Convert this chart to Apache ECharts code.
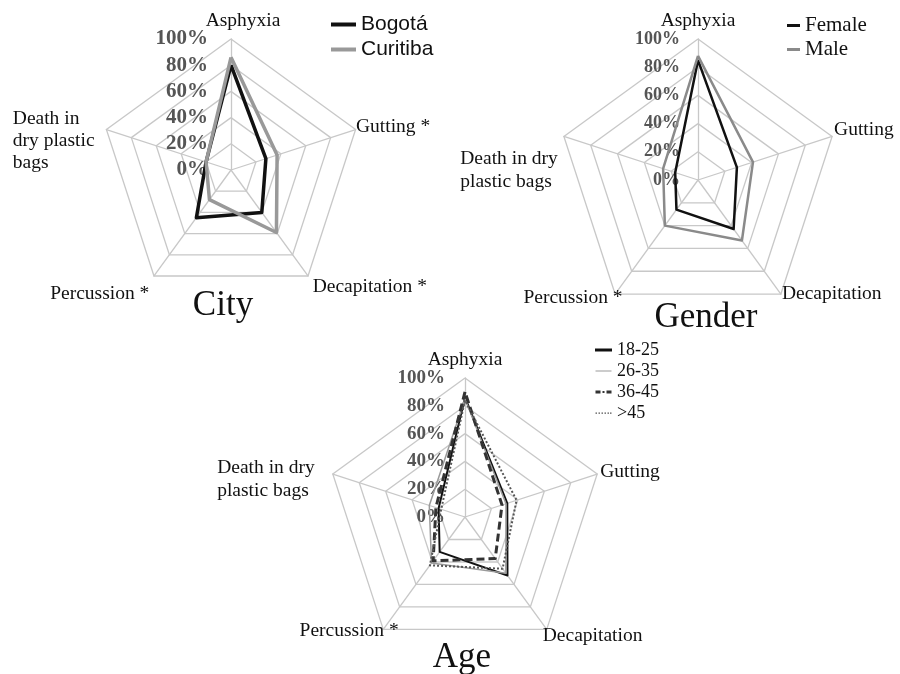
<!doctype html>
<html>
<head>
<meta charset="utf-8">
<script src="https://cdn.jsdelivr.net/npm/echarts@6/dist/echarts.min.js"></script>
<style>
  html, body { margin: 0; padding: 0; background: #fff; }
  #main { width: 900px; height: 674px; }
</style>
</head>
<body>
<div id="main"></div>
<script>
// axes, counter-clockwise from the top (ECharts radar order)
var cityAxes = ['Asphyxia', 'Death in\ndry plastic\nbags', 'Percussion *', 'Decapitation *', 'Gutting *'];
var genderAxes = ['Asphyxia', 'Death in dry\nplastic bags', 'Percussion *', 'Decapitation', 'Gutting'];
var ageAxes = ['Asphyxia', 'Death in dry\nplastic bags', 'Percussion *', 'Decapitation', 'Gutting'];

// values in %, same order as the axes
var bogota   = [80, 20, 45, 40, 28];
var curitiba = [86, 20, 28, 59, 37];
var female   = [85, 17, 26, 43, 29];
var male     = [88, 26, 40, 53, 41];
var age18_25 = [86, 20, 31, 52, 32];
var age26_35 = [85, 27, 41, 50, 31];
var age36_45 = [90, 22, 39, 37, 28];
var age45    = [84, 18, 43, 46, 39];

var serif = 'Liberation Serif';
var gridCol = '#c8c8c8';
var nameSize = 19.5;

function nameKey(n) {
  if (n === 'Asphyxia') return 'top';
  if (n.indexOf('Death') === 0) return 'bags';
  if (n.indexOf('Percussion') === 0) return 'perc';
  if (n.indexOf('Decapitation') === 0) return 'dec';
  return 'gut';
}
function fmt(n) { return '{' + nameKey(n) + '|' + n + '}'; }

function radarOf(axes, center, radius, rich) {
  return {
    center: center,
    radius: radius,
    startAngle: 90,
    shape: 'polygon',
    splitNumber: 5,
    nameGap: 8,
    indicator: axes.map(function (n) { return { name: n, min: 0, max: 100 }; }),
    axisName: { color: '#111', fontFamily: serif, fontSize: nameSize, formatter: fmt, rich: rich },
    splitLine: { lineStyle: { color: gridCol, width: 1.3 } },
    axisLine: { lineStyle: { color: gridCol, width: 1.3 } },
    splitArea: { show: false }
  };
}

// s = per-name style tweaks (box widths / paddings used to nudge the names)
function richOf(s) {
  var base = { fontFamily: serif, fontSize: nameSize, color: '#111' };
  var out = {};
  ['top', 'bags', 'perc', 'dec', 'gut'].forEach(function (k) {
    out[k] = Object.assign({}, base, s[k] || {});
  });
  return out;
}

function tickAxis(idx, margin, size) {
  return {
    type: 'value', gridIndex: idx, min: 0, max: 100, interval: 20,
    axisLine: { show: false }, axisTick: { show: false }, splitLine: { show: false },
    axisLabel: {
      margin: margin, formatter: '{value}%', fontFamily: serif, fontSize: size,
      fontWeight: 'bold', color: '#555'
    }
  };
}

// legend icons; the tiny corner squares only fix the box so the line keeps its thickness
var thinIcon = 'path://M0,0h0.1v0.1h-0.1z M0,1h16v1.1h-16z M15.9,2.9h0.1v0.1h-0.1z';
var dashIcon = 'path://M0,0h5v3h-5z M7,0.5h2v2h-2z M11,0h5v3h-5z';
var dotIcon = 'path://M0,0h0.1v0.1h-0.1z M0,1h1.5v1.3h-1.5z M3,1h1.5v1.3h-1.5z M6,1h1.5v1.3h-1.5z M9,1h1.5v1.3h-1.5z M12,1h1.5v1.3h-1.5z M14.5,1h1.5v1.3h-1.5z M15.9,2.9h0.1v0.1h-0.1z';

var titleStyle = { fontFamily: serif, fontSize: 35, fontWeight: 'normal', color: '#111' };

var myChart = echarts.init(document.getElementById('main'));
var option = {
  backgroundColor: '#fff',
  animation: false,
  title: [
    { text: 'City', left: 218, top: 283, textAlign: 'center', textStyle: titleStyle },
    { text: 'Gender', left: 701, top: 295, textAlign: 'center', textStyle: titleStyle },
    { text: 'Age', left: 457, top: 635, textAlign: 'center', textStyle: titleStyle }
  ],
  legend: [
    { data: ['Bogotá', 'Curitiba'], orient: 'vertical', left: 326, top: 9, itemWidth: 25, itemHeight: 4, itemGap: 4,
      icon: 'rect', textStyle: { fontFamily: 'Liberation Sans', fontSize: 21, color: '#111' } },
    { data: ['Female', 'Male'], orient: 'vertical', left: 782, top: 10, itemWidth: 13, itemHeight: 3, itemGap: 3,
      icon: 'rect', textStyle: { fontFamily: serif, fontSize: 21, color: '#111' } },
    { data: [{ name: '18-25', icon: 'rect' }, { name: '26-35', icon: thinIcon }, { name: '36-45', icon: dashIcon }, { name: '>45', icon: dotIcon }],
      orient: 'vertical', left: 590, top: 336, itemWidth: 17, itemHeight: 3, itemGap: 3,
      textStyle: { fontFamily: serif, fontSize: 18, color: '#111' } }
  ],
  radar: [
    radarOf(cityAxes, [231, 170], 131, richOf({
      top: { padding: [0, 0, 0, 24] },
      bags: { width: 86, align: 'left', lineHeight: 22, padding: [28, 0, 0, 0] },
      perc: { padding: [22, 0, 0, 0] },
      dec: { padding: [8, 0, 0, 0] },
      gut: { width: 67, align: 'right' }
    })),
    radarOf(genderAxes, [698, 180], 141, richOf({
      bags: { width: 96, align: 'left', lineHeight: 23, padding: [72, 0, 0, 0] },
      perc: { width: 87, align: 'left', padding: [0, 0, 6, 0] },
      dec: { width: 96, align: 'right', padding: [0, 0, 14, 0] },
      gut: { width: 54, align: 'right', padding: [0, 0, 8, 0] }
    })),
    radarOf(ageAxes, [465, 517], 139, richOf({
      bags: { width: 108, align: 'left', lineHeight: 23, padding: [16, 0, 0, 0] },
      perc: { width: 79, align: 'left', padding: [0, 0, 10, 0] },
      dec: { width: 91, align: 'right' },
      gut: { width: 55, align: 'right' }
    }))
  ],
  grid: [
    { left: 231, top: 39, width: 1, height: 131 },
    { left: 698, top: 39, width: 1, height: 141 },
    { left: 465, top: 378, width: 1, height: 139 }
  ],
  xAxis: [
    { type: 'value', gridIndex: 0, show: false },
    { type: 'value', gridIndex: 1, show: false },
    { type: 'value', gridIndex: 2, show: false }
  ],
  yAxis: [tickAxis(0, 23, 21), tickAxis(1, 18, 18), tickAxis(2, 20, 19)],
  series: [
    { type: 'radar', radarIndex: 0, symbol: 'none', data: [
      { name: 'Bogotá', value: bogota, lineStyle: { color: '#111', width: 3.5 }, itemStyle: { color: '#111' } },
      { name: 'Curitiba', value: curitiba, lineStyle: { color: '#999', width: 3.5 }, itemStyle: { color: '#999' } }
    ] },
    { type: 'radar', radarIndex: 1, symbol: 'none', data: [
      { name: 'Female', value: female, lineStyle: { color: '#111', width: 2.5 }, itemStyle: { color: '#111' } },
      { name: 'Male', value: male, lineStyle: { color: '#8a8a8a', width: 2.5 }, itemStyle: { color: '#8a8a8a' } }
    ] },
    { type: 'radar', radarIndex: 2, symbol: 'none', data: [
      { name: '18-25', value: age18_25, lineStyle: { color: '#111', width: 2 }, itemStyle: { color: '#111' } },
      { name: '26-35', value: age26_35, lineStyle: { color: '#9a9a9a', width: 1.5 }, itemStyle: { color: '#9a9a9a' } },
      { name: '36-45', value: age36_45, lineStyle: { color: '#333', width: 3, type: [8, 4] }, itemStyle: { color: '#333' } },
      { name: '>45', value: age45, lineStyle: { color: '#555', width: 2, type: [2, 2] }, itemStyle: { color: '#555' } }
    ] }
  ]
};
myChart.setOption(option);
</script>
</body>
</html>
